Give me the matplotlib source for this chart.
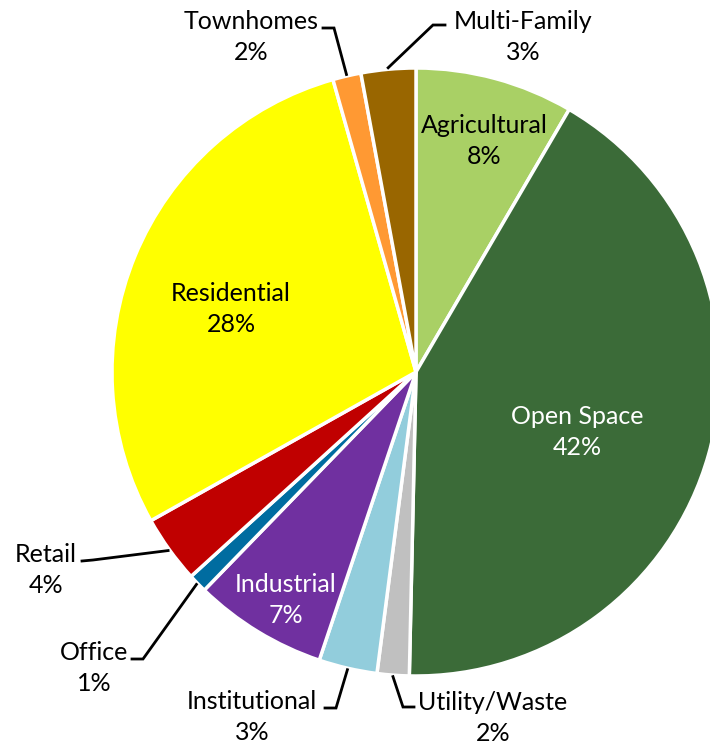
import numpy as np
import matplotlib
matplotlib.use("Agg")
import matplotlib.pyplot as plt

plt.rcParams['font.family'] = ['Lato', 'DejaVu Sans']

# Land use shares (percent), clockwise from 12 o'clock
categories = ["Agricultural", "Open Space", "Utility/Waste", "Institutional",
              "Industrial", "Office", "Retail", "Residential",
              "Townhomes", "Multi-Family"]
shares = [8.4, 41.9, 1.7, 3.1, 7.1, 1.0, 3.6, 28.7, 1.5, 2.9]
pct_labels = ["8%", "42%", "2%", "3%", "7%", "1%", "4%", "28%", "2%", "3%"]
colors = ["#A9D065", "#3B6B38", "#C0C0C0", "#92CDDC", "#7030A0",
          "#006CA0", "#C00000", "#FFFF00", "#FF9933", "#996600"]

# pixel -> data helper (pie radius = 304 px, centre at 416,372)
CX, CY, R = 416, 372, 304
def px(x, y):
    return ((x - CX) / R, (CY - y) / R)

fig = plt.figure(figsize=(7.10, 7.44), dpi=100)
ax = fig.add_axes([0, 0, 1, 1])

wedges, _ = ax.pie(shares, colors=colors, startangle=90, counterclock=False,
                   radius=1.0, center=(0, 0),
                   wedgeprops=dict(edgecolor="white", linewidth=2.5))

ax.set_xlim(px(0, 0)[0], px(710, 0)[0])
ax.set_ylim(px(0, 744)[1], px(0, 0)[1])
ax.set_aspect("auto")
ax.axis("off")

fs = 18
lsp = 1.45

# labels inside the slices
inside = {
    "Agricultural": ((484, 141), "black"),
    "Open Space": ((577, 432), "white"),
    "Residential": ((231, 309), "black"),
    "Industrial": ((286, 600), "white"),
}
# labels outside with leader lines: text centre, line start, elbow
outside = {
    "Townhomes": ((251, 37), (323, 28), (334, 28)),
    "Multi-Family": ((523, 37), (445, 25), (433, 25)),
    "Retail": ((46, 570), (82, 561), (93, 560)),
    "Office": ((94, 668), (132, 659), (143, 659)),
    "Institutional": ((252, 717), (325, 708), (336, 708)),
    "Utility/Waste": ((493, 718), (414, 707), (403, 707)),
}

for w, cat, pct in zip(wedges, categories, pct_labels):
    if cat in inside:
        (x, y), c = inside[cat]
        ax.text(*px(x, y), cat + "\n" + pct, ha="center", va="center",
                fontsize=fs, color=c, linespacing=lsp)
    elif cat in outside:
        (tx, ty), (sx, sy), (ex, ey) = outside[cat]
        ax.text(*px(tx, ty), cat + "\n" + pct, ha="center", va="center",
                fontsize=fs, color="black", linespacing=lsp)
        mid = np.deg2rad((w.theta1 + w.theta2) / 2)
        tip = (np.cos(mid) * 1.005, np.sin(mid) * 1.005)
        p0 = px(sx, sy)
        p1 = px(ex, ey)
        ax.plot([p0[0], p1[0], tip[0]], [p0[1], p1[1], tip[1]],
                color="black", lw=2, solid_joinstyle="miter")

fig.savefig("out.png", dpi=100)
